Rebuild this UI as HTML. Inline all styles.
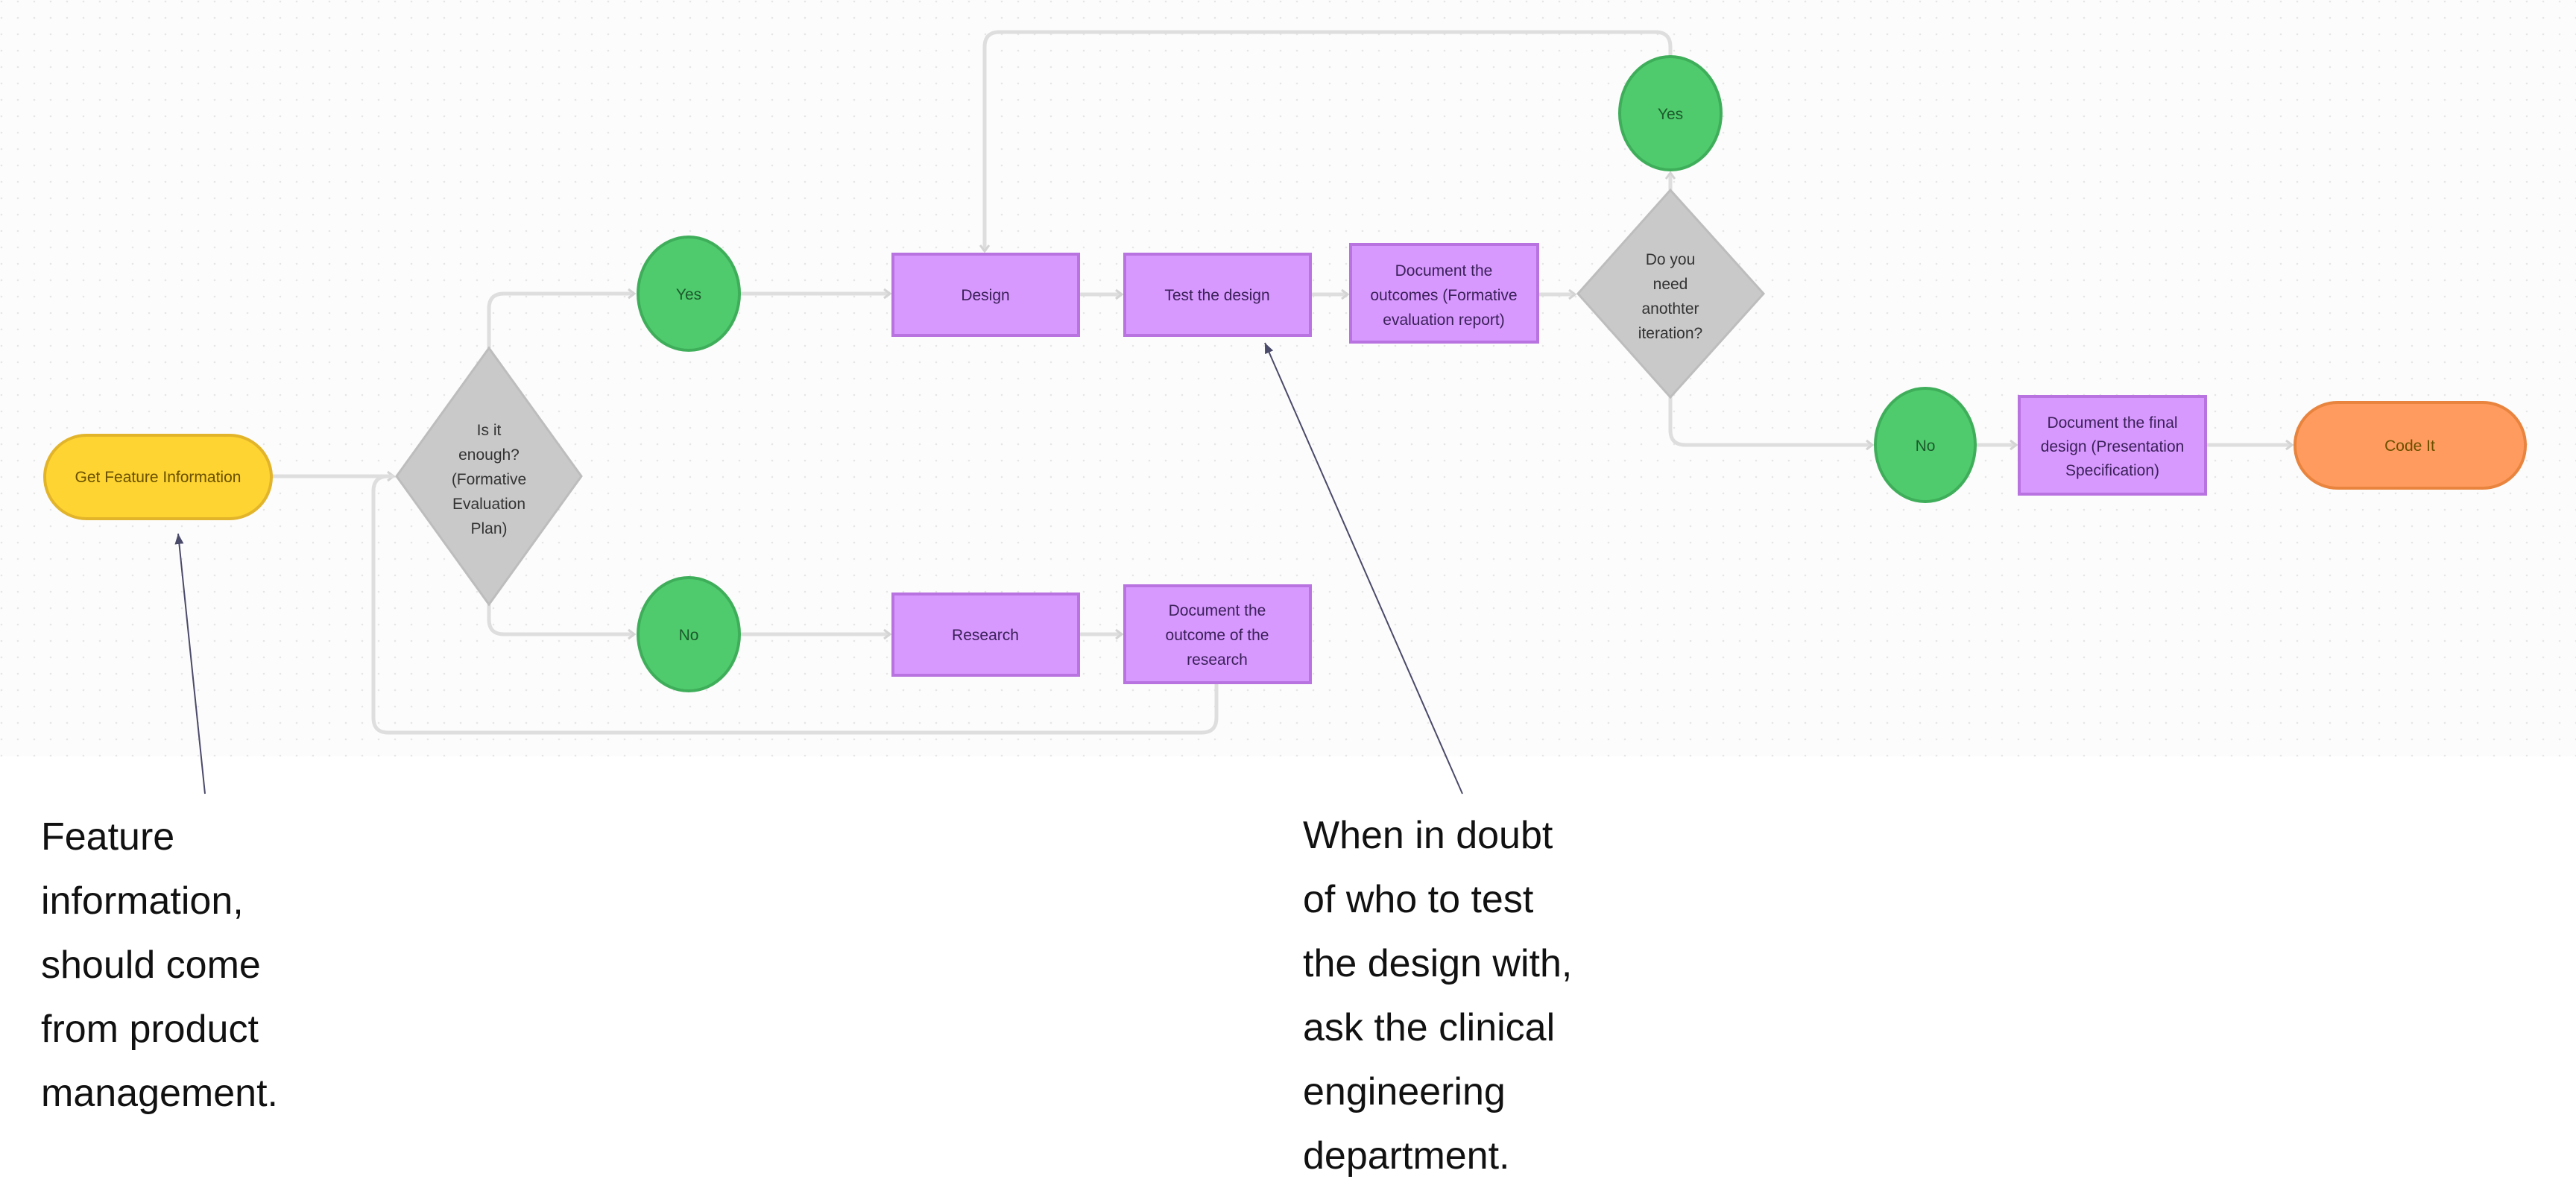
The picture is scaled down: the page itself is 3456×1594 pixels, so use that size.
<!DOCTYPE html>
<html><head><meta charset="utf-8"><style>
html,body{margin:0;padding:0;background:#fff;}
body{width:3456px;height:1587px;overflow:hidden;position:relative;font-family:"Liberation Sans",sans-serif;}
.note{position:absolute;font-size:52px;line-height:86px;color:#111;}
</style></head><body>
<svg width="3456" height="1587" viewBox="0 0 3456 1587" xmlns="http://www.w3.org/2000/svg" style="position:absolute;left:0;top:0">
<defs>
<pattern id="dots" width="22" height="22" patternUnits="userSpaceOnUse"><circle cx="2" cy="2" r="1.3" fill="#e6e6e6"/></pattern>
<marker id="ch" markerWidth="12" markerHeight="16" refX="10" refY="8" orient="auto" markerUnits="userSpaceOnUse"><path d="M2,2 L10,8 L2,14" fill="none" stroke="#d4d4d4" stroke-width="3"/></marker>
<marker id="ah" markerWidth="16" markerHeight="16" refX="14" refY="8" orient="auto" markerUnits="userSpaceOnUse"><path d="M0,2 L14,8 L0,14 Z" fill="#4a4a6a"/></marker>
</defs>
<rect x="0" y="0" width="3456" height="1015" fill="#fcfcfc"/>
<rect x="0" y="0" width="3456" height="1015" fill="url(#dots)"/>
<g fill="none" stroke="#dedede" stroke-width="5">
<path d="M364,639 L528,639" marker-end="url(#ch)"/>
<path d="M656,467 L656,414 Q656,394 676,394 L851,394" marker-end="url(#ch)"/>
<path d="M656,811 L656,831 Q656,851 676,851 L851,851" marker-end="url(#ch)"/>
<path d="M992,394 L1194,394" marker-end="url(#ch)"/>
<path d="M992,851 L1194,851" marker-end="url(#ch)"/>
<path d="M1447,395 L1505,395" marker-end="url(#ch)"/>
<path d="M1447,851 L1505,851" marker-end="url(#ch)"/>
<path d="M1758,395 L1808,395" marker-end="url(#ch)"/>
<path d="M2063,395 L2113,395" marker-end="url(#ch)"/>
<path d="M2241,255 L2241,232" marker-end="url(#ch)"/>
<path d="M2241,77 L2241,63 Q2241,43 2221,43 L1341,43 Q1321,43 1321,63 L1321,337" marker-end="url(#ch)"/>
<path d="M2241,533 L2241,577 Q2241,597 2261,597 L2512,597" marker-end="url(#ch)"/>
<path d="M2650,597 L2705,597" marker-end="url(#ch)"/>
<path d="M2959,597 L3075,597" marker-end="url(#ch)"/>
<path d="M1632,916 L1632,963 Q1632,983 1612,983 L521,983 Q501,983 501,963 L501,659 Q501,639 521,639 L528,639"/>
</g>
<!-- nodes -->
<rect x="60" y="584" width="304" height="112" rx="56" fill="#fdd432" stroke="#e2b42a" stroke-width="4"/>
<polygon points="656,467 780,639 656,811 532,639" fill="#c9c9c9" stroke="#bdbdbd" stroke-width="3"/>
<ellipse cx="924" cy="394" rx="68" ry="76" fill="#4fcb6d" stroke="#3fae5a" stroke-width="4"/>
<ellipse cx="924" cy="851" rx="68" ry="76" fill="#4fcb6d" stroke="#3fae5a" stroke-width="4"/>
<g fill="#d899ff" stroke="#b873e0" stroke-width="4">
<rect x="1198" y="341" width="249" height="109"/>
<rect x="1509" y="341" width="249" height="109"/>
<rect x="1812" y="328" width="251" height="131"/>
<rect x="1198" y="797" width="249" height="109"/>
<rect x="1509" y="786" width="249" height="130"/>
<rect x="2709" y="532" width="250" height="131"/>
</g>
<polygon points="2241,255 2366,394 2241,533 2117,394" fill="#c9c9c9" stroke="#bdbdbd" stroke-width="3"/>
<ellipse cx="2241" cy="152" rx="68" ry="76" fill="#4fcb6d" stroke="#3fae5a" stroke-width="4"/>
<ellipse cx="2583" cy="597" rx="67" ry="76" fill="#4fcb6d" stroke="#3fae5a" stroke-width="4"/>
<rect x="3079" y="540" width="309" height="115" rx="57" fill="#ff9b5e" stroke="#e8843e" stroke-width="4"/>
<!-- text -->
<g font-family="Liberation Sans, sans-serif" font-size="21" text-anchor="middle">
<text x="212" y="647" fill="#6a5000">Get Feature Information</text>
<g fill="#333">
<text x="656" y="584">Is it</text><text x="656" y="617">enough?</text><text x="656" y="650">(Formative</text><text x="656" y="683">Evaluation</text><text x="656" y="716">Plan)</text>
<text x="2241" y="355">Do you</text><text x="2241" y="388">need</text><text x="2241" y="421">anothter</text><text x="2241" y="454">iteration?</text>
</g>
<g fill="#1c5a2c">
<text x="924" y="402">Yes</text><text x="924" y="859">No</text><text x="2241" y="160">Yes</text><text x="2583" y="605">No</text>
</g>
<g fill="#3a2058">
<text x="1322" y="403">Design</text>
<text x="1633" y="403">Test the design</text>
<text x="1937" y="370">Document the</text><text x="1937" y="403">outcomes (Formative</text><text x="1937" y="436">evaluation report)</text>
<text x="1322" y="859">Research</text>
<text x="1633" y="826">Document the</text><text x="1633" y="859">outcome of the</text><text x="1633" y="892">research</text>
<text x="2834" y="574">Document the final</text><text x="2834" y="606">design (Presentation</text><text x="2834" y="638">Specification)</text>
</g>
<text x="3233" y="605" fill="#6a5000">Code It</text>
</g>
<!-- annotation arrows -->
<line x1="275" y1="1065" x2="239" y2="716" stroke="#4a4a6a" stroke-width="2" marker-end="url(#ah)"/>
<line x1="1962" y1="1065" x2="1697" y2="460" stroke="#4a4a6a" stroke-width="2" marker-end="url(#ah)"/>
</svg>
<div class="note" style="left:55px;top:1080px;">Feature<br>information,<br>should come<br>from product<br>management.</div>
<div class="note" style="left:1748px;top:1078px;">When in doubt<br>of who to test<br>the design with,<br>ask the clinical<br>engineering<br>department.</div>
</body></html>
